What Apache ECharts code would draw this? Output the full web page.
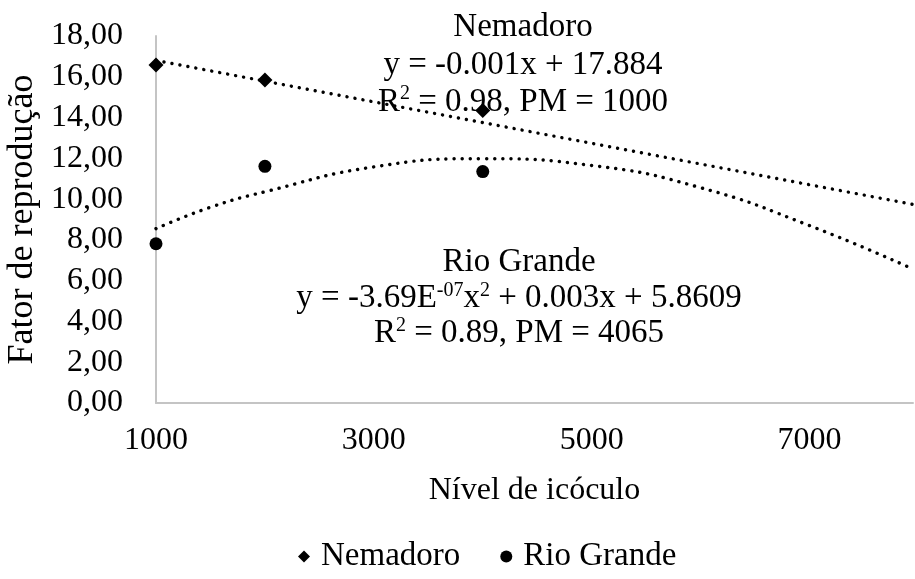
<!DOCTYPE html>
<html>
<head>
<meta charset="utf-8">
<script src="https://cdn.jsdelivr.net/npm/echarts@6/dist/echarts.min.js"></script>
<style>html,body{margin:0;padding:0;background:#fff}#c{width:915px;height:579px}</style>
</head>
<body>
<div id="c"></div>
<script>
const levels = [1000, 2000, 4000];
const nemadoro = [16.58, 15.84, 14.35];
const rioGrande = [7.81, 11.61, 11.35];
const nemTrendX = [1000, 7950];
const nemTrendY = [16.8, 9.74];
const rioTrendX = [1000, 1500, 2000, 3000, 4000, 5000, 6000, 7000, 7950];
const rioTrendY = [8.55, 9.6, 10.36, 11.58, 11.98, 11.65, 10.56, 8.7, 6.57];
const xTicks = [1000, 3000, 5000, 7000];
const yTicks = [0, 2, 4, 6, 8, 10, 12, 14, 16, 18];

const FONT = 'Liberation Serif';
const zip = (xs, ys) => xs.map((x, i) => [x, ys[i]]);
const dotted = {color: '#000', width: 3.4, type: [0.1, 8], cap: 'round'};

const chart = echarts.init(document.getElementById('c'));
chart.setOption({
  animation: false,
  textStyle: {fontFamily: FONT, color: '#000'},
  grid: {left: 156, right: 2, top: 36, bottom: 176, containLabel: false, outerBoundsMode: 'none'},
  xAxis: {
    type: 'value', min: 1000, max: 7950, interval: 2000,
    name: 'Nível de icóculo', nameLocation: 'middle', nameGap: 72,
    nameTextStyle: {fontFamily: FONT, fontSize: 32, color: '#000'},
    axisLine: {show: true, lineStyle: {color: '#c4c4c4', width: 2}},
    axisTick: {show: false},
    splitLine: {show: false},
    axisLabel: {fontFamily: FONT, fontSize: 32, color: '#000', margin: 22,
      formatter: v => xTicks.includes(v) ? String(v) : ''}
  },
  yAxis: {
    type: 'value', min: yTicks[0], max: yTicks[yTicks.length - 1], interval: 2,
    name: 'Fator de reprodução', nameLocation: 'middle', nameGap: 113,
    nameTextStyle: {fontFamily: FONT, fontSize: 36, color: '#000'},
    axisLine: {show: true, lineStyle: {color: '#c4c4c4', width: 2}},
    axisTick: {show: false},
    splitLine: {show: false},
    axisLabel: {fontFamily: FONT, fontSize: 32, color: '#000', margin: 33,
      formatter: v => v.toFixed(2).replace('.', ',')}
  },
  legend: {
    top: 535, left: 293,
    data: [{name: 'Nemadoro', icon: 'diamond'}, {name: 'Rio Grande', icon: 'circle'}],
    itemWidth: 12, itemHeight: 12, itemGap: 40,
    textStyle: {fontFamily: FONT, fontSize: 33, color: '#000', padding: [0, 0, 0, 6]}
  },
  series: [
    {name: 'Nemadoro trend', type: 'line', data: zip(nemTrendX, nemTrendY),
     showSymbol: false, lineStyle: dotted, z: 1, silent: true},
    {name: 'Rio Grande trend', type: 'line', data: zip(rioTrendX, rioTrendY),
     smooth: true, showSymbol: false, lineStyle: dotted, z: 1, silent: true},
    {name: 'Nemadoro', type: 'scatter', data: zip(levels, nemadoro),
     symbol: 'diamond', symbolSize: 15, itemStyle: {color: '#000', opacity: 1}, z: 3},
    {name: 'Rio Grande', type: 'scatter', data: zip(levels, rioGrande),
     symbol: 'circle', symbolSize: 13, itemStyle: {color: '#000', opacity: 1}, z: 3}
  ],
  graphic: [
    {type: 'text', x: 523, y: 9, z: 10, style: {
      text: 'Nemadoro\ny = -0.001x + 17.884\nR{sup|2} = 0.98, PM = 1000',
      fontFamily: FONT, fontSize: 33, lineHeight: 37.5, align: 'center', fill: '#000',
      rich: {sup: {fontFamily: FONT, fontSize: 20, verticalAlign: 'top', lineHeight: 31}}
    }},
    {type: 'text', x: 519, y: 245, z: 10, style: {
      text: 'Rio Grande\ny = -3.69E{sup|-07}x{sup|2} + 0.003x + 5.8609\nR{sup|2} = 0.89, PM = 4065',
      fontFamily: FONT, fontSize: 33, lineHeight: 35.5, align: 'center', fill: '#000',
      rich: {sup: {fontFamily: FONT, fontSize: 20, verticalAlign: 'top', lineHeight: 30}}
    }}
  ]
});
</script>
</body>
</html>
